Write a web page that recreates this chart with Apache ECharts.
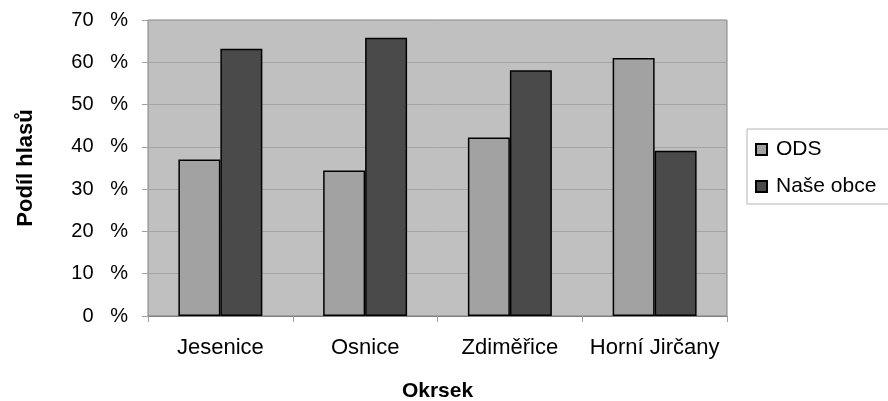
<!DOCTYPE html>
<html>
<head>
<meta charset="utf-8">
<script src="https://cdn.jsdelivr.net/npm/echarts@6/dist/echarts.min.js"></script>
<style>
  html, body { margin: 0; padding: 0; background: #fff; }
  #chart { width: 888px; height: 401px; }
</style>
</head>
<body>
<div id="chart"></div>
<script>
const categories = ['Jesenice', 'Osnice', 'Zdiměřice', 'Horní Jirčany'];
const odsValues = [37.0, 34.4, 42.2, 61.0];
const naseObceValues = [63.2, 65.8, 58.1, 39.1];
const seriesNames = ['ODS', 'Naše obce'];

const font = 'Arial, "Liberation Sans", sans-serif';

const chart = echarts.init(document.getElementById('chart'));

chart.setOption({
  animation: false,
  textStyle: { fontFamily: font, color: '#000' },
  grid: {
    left: 148,
    right: 161,
    top: 20,
    bottom: 85,
    outerBoundsMode: 'none',
    containLabel: false,
    show: true,
    backgroundColor: '#c0c0c0',
    borderColor: '#808080',
    borderWidth: 1
  },
  legend: {
    orient: 'vertical',
    left: 747,
    top: 129,
    data: seriesNames,
    icon: 'rect',
    itemWidth: 11,
    itemHeight: 11,
    itemGap: 16,
    padding: [10, 30, 7, 8],
    borderColor: '#b4b4b4',
    borderWidth: 1,
    backgroundColor: '#fff',
    textStyle: { fontFamily: font, fontSize: 21, color: '#000', padding: [0, 0, 0, 4] }
  },
  xAxis: {
    type: 'category',
    data: categories,
    name: 'Okrsek',
    nameLocation: 'middle',
    nameGap: 65,
    nameTextStyle: { fontFamily: font, fontSize: 21, fontWeight: 'bold', color: '#000' },
    axisLine: { lineStyle: { color: '#808080' } },
    axisTick: { show: true, interval: 0, length: 6, lineStyle: { color: '#a0a0a0' } },
    axisLabel: { interval: 0, fontFamily: font, fontSize: 22, color: '#000', margin: 21 }
  },
  yAxis: {
    type: 'value',
    min: 0,
    max: 70,
    interval: 10,
    name: 'Podíl hlasů',
    nameLocation: 'middle',
    nameGap: 111,
    nameTextStyle: { fontFamily: font, fontSize: 22, fontWeight: 'bold', color: '#000' },
    axisLine: { show: false },
    axisTick: { show: true, length: 6, lineStyle: { color: '#a0a0a0' } },
    axisLabel: { fontFamily: font, fontSize: 20, color: '#000', margin: 20, formatter: '{value}   %' },
    splitLine: { lineStyle: { color: '#a4a4a4', width: 1 } }
  },
  series: [
    {
      name: seriesNames[0],
      type: 'bar',
      data: odsValues,
      barGap: 0,
      barCategoryGap: '42%',
      itemStyle: { color: '#a2a2a2', borderColor: '#000', borderWidth: 1.5 }
    },
    {
      name: seriesNames[1],
      type: 'bar',
      data: naseObceValues,
      barGap: 0,
      barCategoryGap: '42%',
      itemStyle: { color: '#4a4a4a', borderColor: '#000', borderWidth: 1.5 }
    }
  ]
});
</script>
</body>
</html>
